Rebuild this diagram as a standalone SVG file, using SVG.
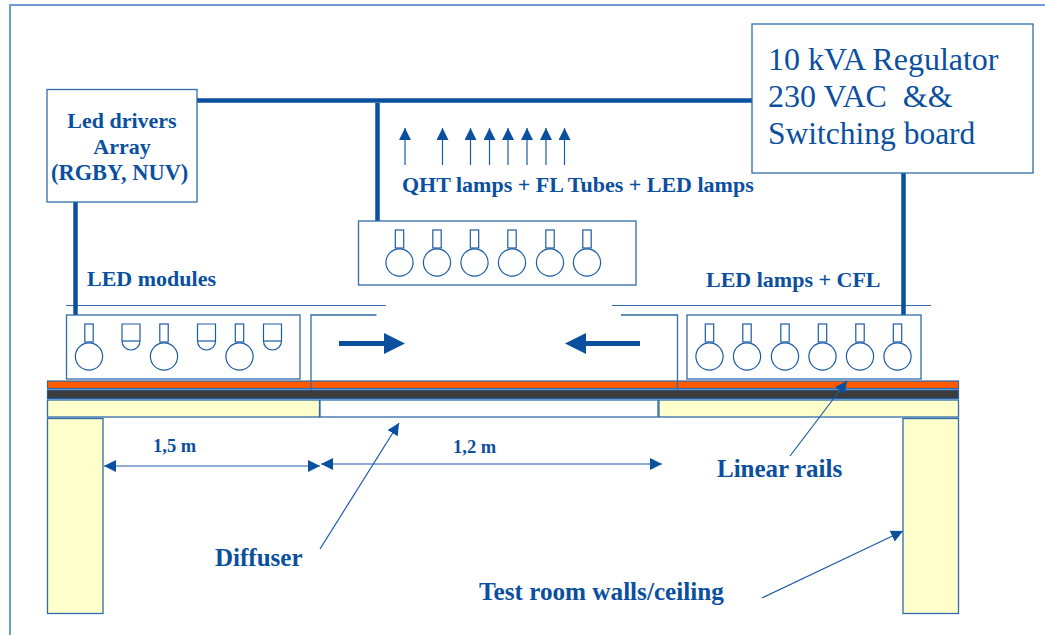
<svg xmlns="http://www.w3.org/2000/svg" width="1045" height="635" viewBox="0 0 1045 635">
<style>
text{font-family:"Liberation Serif","Times New Roman",serif;fill:#0b4f9f;font-weight:bold}
.box{fill:#fff;stroke:#2e6cab;stroke-width:1.3}
.frame{fill:none;stroke:#6f9bd0;stroke-width:2}
.thin{fill:none;stroke:#2e6cab;stroke-width:1.2}
.lamp{fill:#fff;stroke:#1c5ca6;stroke-width:1.2}
.bus{fill:none;stroke:#0b4f9f;stroke-width:4.5}
.arrow{fill:none;stroke:#1c5ca6;stroke-width:1.2}
.head{fill:#0b4f9f;stroke:none}
.cream{fill:#ffffcc;stroke:#2e6cab;stroke-width:1.3}
</style>
<defs>
<g id="bulb"><rect class="lamp" x="-4.2" y="0" width="8.4" height="18"/><circle class="lamp" cx="0" cy="32.5" r="13.6"/></g>
<g id="cup"><path class="lamp" d="M-9 0H9V17A9 9 0 0 1-9 17Z"/><path class="lamp" d="M-9 17H9"/></g>
<marker id="tip" markerUnits="userSpaceOnUse" markerWidth="14" markerHeight="12" refX="12" refY="6" orient="auto"><path class="head" d="M0 0L12 6L0 12Z"/></marker>
<marker id="tipR" markerUnits="userSpaceOnUse" markerWidth="14" markerHeight="12" refX="12" refY="6" orient="auto-start-reverse"><path class="head" d="M0 0L12 6L0 12Z"/></marker>
</defs>
<rect class="frame" x="10" y="5" width="1060" height="660"/>
<g id="structure">
<rect x="47.5" y="381" width="911" height="7.5" fill="#ff5a00" stroke="#2e6cab" stroke-width="1.2"/>
<rect x="47.5" y="390" width="911" height="8.5" fill="#3c3c3c" stroke="#1c5ca6" stroke-width="1.2"/>
</g>
<g id="panel-left"><rect class="cream" x="47.5" y="400" width="272" height="17"/></g>
<g id="diffuser"><rect class="box" x="320" y="400" width="338" height="17"/></g>
<g id="panel-right"><rect class="cream" x="659" y="400" width="299.5" height="17"/></g>
<g id="wall-left"><rect class="cream" x="47.5" y="418.5" width="55.5" height="195"/></g>
<g id="wall-right"><rect class="cream" x="903" y="418.5" width="55.5" height="195"/></g>
<g id="rail-top">
<path class="thin" d="M66 305.500H386M612 305.500H931"/>
</g>
<g id="carriage-left"><path class="box" style="fill:none" d="M376.500 315H311V390"/></g>
<g id="carriage-right"><path class="box" style="fill:none" d="M621 315H677.500V390"/></g>
<g id="connectors">
<path class="bus" d="M197 100.500H752"/>
<path class="bus" d="M377.500 103V224"/>
<path class="bus" d="M75.500 202V315"/>
<path class="bus" d="M903.500 173V315"/>
<path d="M339 343.500H390" stroke="#0b4f9f" stroke-width="5" fill="none"/>
<path class="head" d="M384 333L405 343.500L384 354Z"/>
<path d="M640 343.500H585" stroke="#0b4f9f" stroke-width="5" fill="none"/>
<path class="head" d="M586 333L565 343.500L586 354Z"/>
<g class="arrow">
<path d="M405 165V128" marker-end="url(#tip)"/>
<path d="M442.500 165V128" marker-end="url(#tip)"/>
<path d="M470.500 165V128" marker-end="url(#tip)"/>
<path d="M489.500 165V128" marker-end="url(#tip)"/>
<path d="M508 165V128" marker-end="url(#tip)"/>
<path d="M527 165V128" marker-end="url(#tip)"/>
<path d="M546 165V128" marker-end="url(#tip)"/>
<path d="M564.500 165V128" marker-end="url(#tip)"/>
<path d="M104 466H320" marker-start="url(#tipR)" marker-end="url(#tipR)"/>
<path d="M321 464H662" marker-start="url(#tipR)" marker-end="url(#tipR)"/>
<path d="M320 549L399 423" marker-end="url(#tip)"/>
<path d="M790 456L847 381" marker-end="url(#tip)"/>
<path d="M762 598L903 531" marker-end="url(#tip)"/>
</g>
</g>
<g id="led-drivers">
<rect class="box" x="47" y="89.500" width="150" height="112.500"/>
<text x="122" y="128" text-anchor="middle" font-size="22">Led drivers</text>
<text x="122" y="154" text-anchor="middle" font-size="22">Array</text>
<text x="51" y="180" font-size="22.400">(RGBY, NUV)</text>
</g>
<g id="regulator">
<rect class="box" x="752" y="24" width="281" height="149"/>
<text x="768" y="70" font-size="32" style="font-weight:normal">10 kVA Regulator</text>
<text x="768" y="107" font-size="32" style="font-weight:normal;white-space:pre">230 VAC  &amp;&amp;</text>
<text x="768" y="144" font-size="31.500" style="font-weight:normal">Switching board</text>
</g>
<g id="module-mid">
<rect class="box" x="358.500" y="221" width="277.500" height="64"/>
<use href="#bulb" x="399.500" y="230"/><use href="#bulb" x="437" y="230"/><use href="#bulb" x="474.500" y="230"/><use href="#bulb" x="512" y="230"/><use href="#bulb" x="550" y="230"/><use href="#bulb" x="587" y="230"/>
</g>
<g id="module-left">
<rect class="box" x="66.500" y="315" width="233.500" height="64"/>
<use href="#bulb" x="89" y="324"/><use href="#cup" x="131" y="324"/><use href="#bulb" x="164" y="324"/><use href="#cup" x="206.500" y="324"/><use href="#bulb" x="239.500" y="324"/><use href="#cup" x="272.500" y="324"/>
</g>
<g id="module-right">
<rect class="box" x="687" y="315" width="234" height="64"/>
<use href="#bulb" x="709.500" y="324"/><use href="#bulb" x="747" y="324"/><use href="#bulb" x="785" y="324"/><use href="#bulb" x="822.500" y="324"/><use href="#bulb" x="860" y="324"/><use href="#bulb" x="897.500" y="324"/>
</g>
<g id="labels">
<text x="402" y="192" font-size="22">QHT lamps + FL Tubes + LED lamps</text>
<text x="87" y="286" font-size="22">LED modules</text>
<text x="706" y="287" font-size="22">LED lamps + CFL</text>
<text x="153" y="452" font-size="18.500">1,5 m</text>
<text x="453" y="453" font-size="18.500">1,2 m</text>
<text x="717" y="477" font-size="25">Linear rails</text>
<text x="215" y="566" font-size="25">Diffuser</text>
<text x="479" y="600" font-size="25.200">Test room walls/ceiling</text>
</g>
</svg>
